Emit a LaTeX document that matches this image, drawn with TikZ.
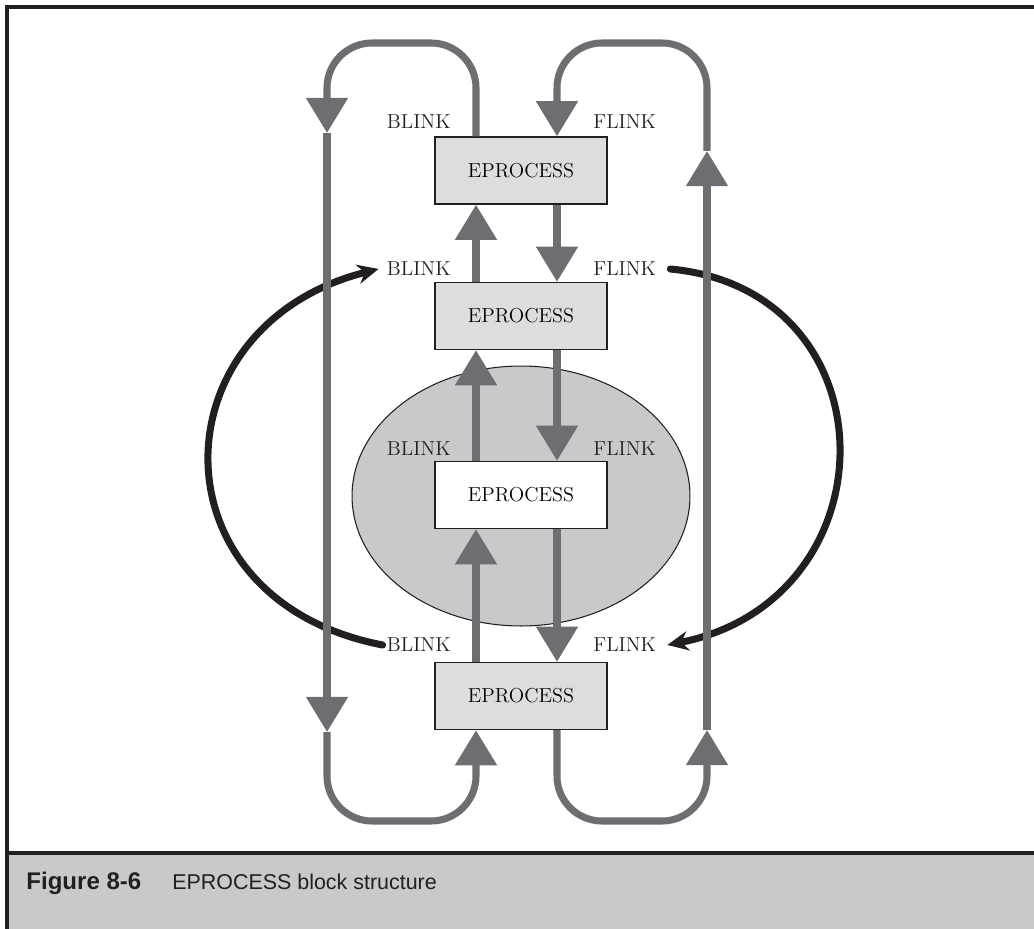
\documentclass[tikz,border=0pt]{standalone}
\usepackage{fontspec}
\newfontfamily\capfont{Liberation Sans}
\usetikzlibrary{arrows.meta}
\definecolor{linkgray}{HTML}{6D6E71}
\definecolor{boxgray}{HTML}{DCDDDF}
\definecolor{ellgray}{HTML}{C8C9CB}
\definecolor{inkblack}{HTML}{231F20}

\begin{document}
\begin{tikzpicture}[x=0.02cm, y=-0.02cm,
  eproc/.style={draw=inkblack, line width=0.8pt, fill=boxgray, minimum width=3.44cm,
    minimum height=1.34cm, inner sep=0pt, font=\fontsize{11.5}{13}\selectfont},
  lbl/.style={inner sep=0pt, text=inkblack, font=\fontsize{11.5}{13}\selectfont},
  glink/.style={linkgray, line width=4pt, rounded corners=0.9cm,
    -{Triangle[length=20pt,width=23pt]}},
  hoplink/.style={inkblack, line width=4pt, line cap=round,
    -{Stealth[length=12pt,width=11pt]}}]
  \useasboundingbox (0,0) rectangle (1034,929);

  % Frame and caption band
  \fill[ellgray] (7,853) rectangle (1034,929);
  \draw[inkblack, line width=2.3pt] (1034,7) -- (7,7) -- (7,929);
  \draw[inkblack, line width=2.3pt] (7,853) -- (1034,853);
  \node[anchor=base west, inner sep=0pt, text=inkblack,
    font=\capfont\bfseries\fontsize{13.7}{16}\selectfont] (fignum) at (26,889) {Figure 8-6};
  \node[anchor=base west, inner sep=0pt, text=inkblack,
    font=\capfont\fontsize{12.2}{14}\selectfont] (figtitle) at (172,889) {EPROCESS block structure};

  % Current process
  \filldraw[fill=ellgray, draw=inkblack, line width=0.6pt] (521,496) ellipse [x radius=3.38cm, y radius=2.6cm];

  % Blocks and link fields
  \node[eproc] (e1) at (521,170.5) {EPROCESS};
  \node[eproc] (e2) at (521,316) {EPROCESS};
  \node[eproc, fill=white] (e3) at (521,495) {EPROCESS};
  \node[eproc] (e4) at (521,696) {EPROCESS};
  \node[lbl, anchor=east] (b1) at (451,122) {BLINK};
  \node[lbl, anchor=west] (f1) at (593,122) {FLINK};
  \node[lbl, anchor=east] (b2) at (451,269) {BLINK};
  \node[lbl, anchor=west] (f2) at (593,269) {FLINK};
  \node[lbl, anchor=east] (b3) at (451,449) {BLINK};
  \node[lbl, anchor=west] (f3) at (593,449) {FLINK};
  \node[lbl, anchor=east] (b4) at (451,645) {BLINK};
  \node[lbl, anchor=west] (f4) at (593,645) {FLINK};

  % Removal: neighbours linked past the current block
  \draw[hoplink] ([xshift=-0.8mm]b4.west) .. controls (150,600) and (155,325) .. ([xshift=-1.6mm]b2.west);
  \draw[hoplink] ([xshift=2.8mm]f2.east) .. controls (895,290) and (895,600) .. ([xshift=2.2mm]f4.east);

  % Link columns and turns
  \coordinate (bl) at (476,0);
  \coordinate (fl) at (557,0);
  \coordinate (lx) at (327,0);
  \coordinate (rx) at (707,0);
  \coordinate (top) at (0,43);
  \coordinate (bot) at (0,821);
  \coordinate (ldn1) at (327,133);
  \coordinate (ldn2) at (327,732);
  \coordinate (rup1) at (707,730);
  \coordinate (rup2) at (707,151);

  % Back links, wrapping round the left
  \draw[glink] (e1.north -| bl) -- (bl |- top) -- (lx |- top) -- (ldn1);
  \draw[glink] (ldn1) -- (ldn2);
  \draw[glink] (ldn2) -- (lx |- bot) -- (bl |- bot) -- (e4.south -| bl);
  \draw[glink] (e2.north -| bl) -- (e1.south -| bl);
  \draw[glink] (e3.north -| bl) -- (e2.south -| bl);
  \draw[glink] (e4.north -| bl) -- (e3.south -| bl);

  % Forward links, wrapping round the right
  \draw[glink] (e4.south -| fl) -- (fl |- bot) -- (rx |- bot) -- (rup1);
  \draw[glink] (rup1) -- (rup2);
  \draw[glink] (rup2) -- (rx |- top) -- (fl |- top) -- (e1.north -| fl);
  \draw[glink] (e1.south -| fl) -- (e2.north -| fl);
  \draw[glink] (e2.south -| fl) -- (e3.north -| fl);
  \draw[glink] (e3.south -| fl) -- (e4.north -| fl);
\end{tikzpicture}
\end{document}
